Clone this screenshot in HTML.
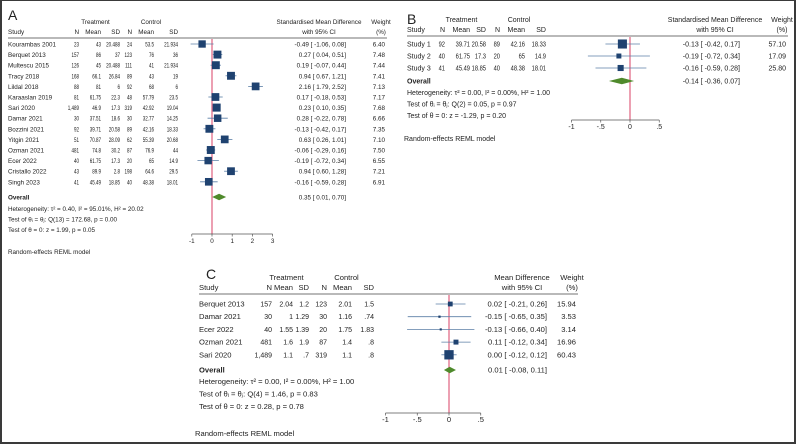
<!DOCTYPE html>
<html><head><meta charset="utf-8">
<style>
html,body{margin:0;padding:0;background:#fff}
#wrap{position:relative;width:796px;height:444px;overflow:hidden;box-sizing:border-box;border:2px solid #3a3a3a;border-top-width:1px;border-left-width:2px}
svg{position:absolute;left:-2px;top:-1px}
text{font-family:"Liberation Sans",sans-serif;font-size:7px;fill:#222}
</style></head>
<body>
<div id="wrap">
<svg id="fig" width="796" height="444" viewBox="0 0 796 444"></svg>
</div>
<script>
// Panel A data
const aStudies=["Kourambas 2001","Berquet 2013","Multescu 2015","Tracy 2018","Lildal 2018","Karaaslan 2019","Sari 2020","Damar 2021","Bozzini 2021","Yitgin 2021","Ozman 2021","Ecer 2022","Cristallo 2022","Singh 2023"];
const aTN=["23","157","126","168","88","81","1,489","30","92","51","481","40","43","41"];
const aTM=["43","86","45","66.1","81","61.75","46.9","37.51","39.71","70.87","74.8","61.75","89.9","45.49"];
const aTS=["20.488","37","20.488","26.84","6","22.3","17.3","18.6","20.58","28.09","30.2","17.3","2.8","18.85"];
const aCN=["24","123","111","89","92","48","319","30","89","62","87","20","198","40"];
const aCM=["53.5","76","41","43","68","57.79","42.92","32.77","42.16","55.39","76.9","65","64.6","48.38"];
const aCS=["21.934","36","21.934","19","6","23.5","19.04","14.25","18.33","20.68","44","14.9","29.5","18.01"];
const aES=[-0.49,0.27,0.19,0.94,2.16,0.17,0.23,0.28,-0.13,0.63,-0.06,-0.19,0.94,-0.16];
const aLO=[-1.06,0.04,-0.07,0.67,1.79,-0.18,0.10,-0.22,-0.42,0.26,-0.29,-0.72,0.60,-0.59];
const aHI=[0.08,0.51,0.44,1.21,2.52,0.53,0.35,0.78,0.17,1.01,0.16,0.34,1.28,0.28];
const aW=[6.40,7.48,7.44,7.41,7.13,7.17,7.68,6.66,7.35,7.10,7.50,6.55,7.21,6.91];
const aOverall=[0.35,0.01,0.70];
const aTicks=[-1,0,1,2,3];
const aTickLabels=["-1","0","1","2","3"];
const aStats=["Heterogeneity: τ² = 0.40, I² = 95.01%, H² = 20.02","Test of θᵢ = θⱼ: Q(13) = 172.68, p = 0.00","Test of θ = 0: z = 1.99, p = 0.05"];
// Panel B data
const bStudies=["Study 1","Study 2","Study 3"];
const bTN=["92","40","41"],bTM=["39.71","61.75","45.49"],bTS=["20.58","17.3","18.85"];
const bCN=["89","20","40"],bCM=["42.16","65","48.38"],bCS=["18.33","14.9","18.01"];
const bES=[-0.13,-0.19,-0.16],bLO=[-0.42,-0.72,-0.59],bHI=[0.17,0.34,0.28];
const bW=[57.10,17.09,25.80];
const bOverall=[-0.14,-0.36,0.07];
const bTicks=[-1,-0.5,0,0.5];
const bTickLabels=["-1","-.5","0",".5"];
const bStats=["Heterogeneity: τ² = 0.00, I² = 0.00%, H² = 1.00","Test of θᵢ = θⱼ: Q(2) = 0.05, p = 0.97","Test of θ = 0: z = -1.29, p = 0.20"];
// Panel C data
const cStudies=["Berquet 2013","Damar 2021","Ecer 2022","Ozman 2021","Sari 2020"];
const cTN=["157","30","40","481","1,489"],cTM=["2.04","1","1.55","1.6","1.1"],cTS=["1.2","1.29","1.39","1.9",".7"];
const cCN=["123","30","20","87","319"],cCM=["2.01","1.16","1.75","1.4","1.1"],cCS=["1.5",".74","1.83",".8",".8"];
const cES=[0.02,-0.15,-0.13,0.11,0.00],cLO=[-0.21,-0.65,-0.66,-0.12,-0.12],cHI=[0.26,0.35,0.40,0.34,0.12];
const cW=[15.94,3.53,3.14,16.96,60.43];
const cOverall=[0.01,-0.08,0.11];
const cTicks=[-1,-0.5,0,0.5];
const cTickLabels=["-1","-.5","0",".5"];
const cStats=["Heterogeneity: τ² = 0.00, I² = 0.00%, H² = 1.00","Test of θᵢ = θⱼ: Q(4) = 1.46, p = 0.83","Test of θ = 0: z = 0.28, p = 0.78"];

const NS="http://www.w3.org/2000/svg";
const svg=document.getElementById('fig');
function mk(tag,attrs,parent){const e=document.createElementNS(NS,tag);for(const k in attrs)e.setAttribute(k,attrs[k]);(parent||svg).appendChild(e);return e;}
function txt(x,y,s,anchor,parent,extra){const t=mk('text',Object.assign({x:x,y:y,'text-anchor':anchor||'start'},extra||{}),parent);t.textContent=s;return t;}
function fmt(v){return v.toFixed(2);}
function ciStr(e,l,h){return fmt(e)+" [ "+(l<0?"":" ")+fmt(l)+",  "+fmt(h)+"]";}

function panel(p){
  const g=mk('g',{style:'font-size:'+p.fs+'px'});
  
  
  const st={style:'font-size:'+p.fs+'px'};
  const xs=v=>p.x0+v*p.ppu;
  const num=(x,y,s,parent)=>{const t=mk('text',{x:0,y:0,'text-anchor':'end',style:'font-size:'+p.fs+'px',transform:`translate(${x},${y}) scale(${p.ns},1)`},parent);t.textContent=s;return t;};
  const lt=txt(p.letterX,p.letterY,p.id.toUpperCase(),'start',g,{style:'font-size:14px'});
  
  
  const hy=p.headY, c=p.cols;
  txt((c[1]+c[3])/2-4,hy-10,"Treatment",'middle',g,st);
  txt((c[4]+c[6])/2-4,hy-10,"Control",'middle',g,st);
  txt(p.studyX,hy,"Study",'start',g,st);
  ["N","Mean","SD","N","Mean","SD"].forEach((h,i)=>txt(c[i+1],hy,h,'end',g,st));
  txt(p.ciCenter,hy-10,p.measure,'middle',g,st);
  txt(p.ciCenter,hy,"with 95% CI",'middle',g,st);
  txt(p.wRight-4,hy-10,"Weight",'middle',g,st);
  txt(p.wRight-4,hy,"(%)",'middle',g,st);
  const hl=mk('line',{x1:p.studyX,x2:p.wRight+2,y1:hy+4,y2:hy+4,stroke:'#444','stroke-width':0.8},g);
  
  
  const axisY=p.axisY;
  const ref=mk('line',{x1:xs(0),x2:xs(0),y1:hy+5,y2:axisY,stroke:'#e0607e','stroke-width':1.2},g);
  
  
  p.studies.forEach((s,i)=>{
    const y=p.row0+i*p.rowH;
    const r=mk('g',{},g);
    
    
    txt(p.studyX,y+2.5,s,'start',r,st);
    [p.tn[i],p.tm[i],p.ts[i],p.cn[i],p.cm[i],p.cs[i]].forEach((v,j)=>num(c[j+1],y+2.5,v,r));
    const ci=mk('line',{x1:xs(p.lo[i]),x2:xs(p.hi[i]),y1:y,y2:y,stroke:'#5b7fa6','stroke-width':0.8},r);
    
    
    const sz=p.k*Math.sqrt(p.w[i]);
    const b=mk('rect',{x:xs(p.es[i])-sz/2,y:y-sz/2,width:sz,height:sz,fill:'#1f4270'},r);
    
    
    txt(p.ciRight,y+2.5,ciStr(p.es[i],p.lo[i],p.hi[i]),'end',r,st);
    txt(p.wRight,y+2.5,p.w[i].toFixed(2),'end',r,st);
  });
  const oy=p.overY;
  txt(p.studyX,oy+2.5,"Overall",'start',g,{'font-weight':'bold',style:'font-size:'+p.fs+'px'});
  const o=p.overall;
  const dm=mk('polygon',{points:`${xs(o[1])},${oy} ${xs(o[0])},${oy-3.2} ${xs(o[2])},${oy} ${xs(o[0])},${oy+3.2}`,fill:'#4f8a2c'},g);
  
  
  txt(p.ciRight,oy+2.5,ciStr(o[0],o[1],o[2]),'end',g,st);
  p.stats.forEach((s,i)=>{const t=txt(p.studyX,oy+14+i*p.statH,s,'start',g,st);});
  const ax=mk('line',{x1:xs(p.ticks[0]),x2:xs(p.ticks[p.ticks.length-1]),y1:axisY,y2:axisY,stroke:'#555','stroke-width':0.7},g);
  
  
  p.ticks.forEach((t,i)=>{
    mk('line',{x1:xs(t),x2:xs(t),y1:axisY,y2:axisY+2.5,stroke:'#555','stroke-width':0.7},g);
    const tl=txt(xs(t),axisY+9,p.tickLabels[i],'middle',g,st);
    
    
  });
  const m=txt(p.modelX,p.modelY,"Random-effects REML model",'start',g,st);
  
  
}

panel({id:'a',fs:6.3,ns:0.72,letterX:8,letterY:20,headY:34,studyX:8,cols:[0,79,101,120,132,154,178],ciCenter:319,measure:"Standardised Mean Difference",ciRight:346,wRight:385,
  x0:212,ppu:20.2,row0:44,rowH:10.6,overY:197,statH:10.5,axisY:234,k:2.9,modelX:8,modelY:254,
  studies:aStudies,tn:aTN,tm:aTM,ts:aTS,cn:aCN,cm:aCM,cs:aCS,es:aES,lo:aLO,hi:aHI,w:aW,overall:aOverall,stats:aStats,ticks:aTicks,tickLabels:aTickLabels});
panel({id:'b',fs:7,ns:0.82,letterX:407,letterY:24,headY:32,studyX:407,cols:[0,445,470,486,500,525,546],ciCenter:715,measure:"Standardised Mean Difference",ciRight:740,wRight:786,
  x0:630,ppu:58.5,row0:44,rowH:12,overY:81,statH:11.5,axisY:120,k:1.2,modelX:404,modelY:141,
  studies:bStudies,tn:bTN,tm:bTM,ts:bTS,cn:bCN,cm:bCM,cs:bCS,es:bES,lo:bLO,hi:bHI,w:bW,overall:bOverall,stats:bStats,ticks:bTicks,tickLabels:bTickLabels});
panel({id:'c',fs:7.6,ns:0.92,letterX:206,letterY:279,headY:290,studyX:199,cols:[0,272,293,309,327,352,374],ciCenter:522,measure:"Mean Difference",ciRight:547,wRight:576,
  x0:449,ppu:63.5,row0:304,rowH:12.7,overY:370,statH:12.4,axisY:413,k:1.2,modelX:195,modelY:436,
  studies:cStudies,tn:cTN,tm:cTM,ts:cTS,cn:cCN,cm:cCM,cs:cCS,es:cES,lo:cLO,hi:cHI,w:cW,overall:cOverall,stats:cStats,ticks:cTicks,tickLabels:cTickLabels});
</script>
</body></html>
